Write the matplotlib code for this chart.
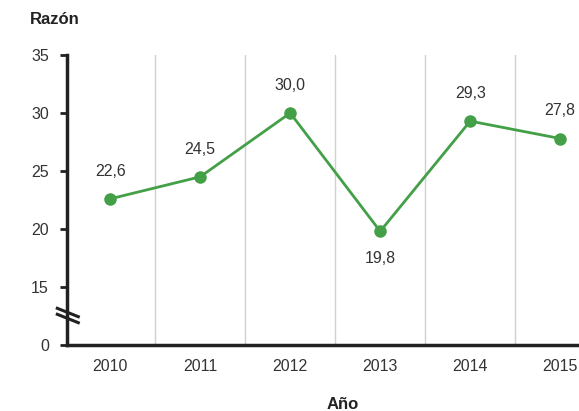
import matplotlib
matplotlib.use("Agg")
import matplotlib.pyplot as plt
from matplotlib.lines import Line2D

years = [2010, 2011, 2012, 2013, 2014, 2015]
razon = [22.6, 24.5, 30.0, 19.8, 29.3, 27.8]
label_below = [False, False, False, True, False, False]
ytick_pos = [10, 15, 20, 25, 30, 35]
ytick_labels = ["0", "15", "20", "25", "30", "35"]

plt.rcParams['font.family'] = ['Liberation Sans', 'DejaVu Sans']

W, H = 579, 411
fig = plt.figure(figsize=(W / 100, H / 100), dpi=100)
px = 90.0  # pixels per year
x0 = 2009.52
x1 = 2015.6
left = 67 / W
bottom = 1 - 345 / H
height = (345 - 55) / H
width = (x1 - x0) * px / W
ax = fig.add_axes([left, bottom, width, height])

green = '#43a047'
txt = '#333333'
fs = 11.5

ax.plot(years, razon, color=green, lw=2.0, marker='o', ms=8, zorder=3, clip_on=False)
for x, y, below in zip(years, razon, label_below):
    off = -19.5 if below else 20
    ax.annotate(f"{y:.1f}".replace('.', ','), (x, y), xytext=(0, off),
                textcoords='offset points', ha='center', va='center',
                fontsize=fs, color=txt, annotation_clip=False)

ax.set_xlim(x0, x1)
ax.set_ylim(10, 35)
ax.set_yticks(ytick_pos)
ax.set_yticklabels(ytick_labels)
ax.set_xticks(years)
ax.set_xticklabels([str(y) for y in years])
ax.set_xticks([y + 0.5 for y in years[:-1]], minor=True)
ax.grid(False)
ax.xaxis.grid(True, which='minor', color='#d0d0d0', lw=1)
ax.tick_params(axis='x', which='both', length=0, labelsize=fs, labelcolor=txt, pad=10)
ax.tick_params(axis='y', length=5, width=2, color='#222222', labelsize=fs, labelcolor=txt, pad=8)

for s in ['top', 'right']:
    ax.spines[s].set_visible(False)
ax.spines['left'].set_linewidth(2.5)
ax.spines['bottom'].set_linewidth(2.5)
ax.spines['left'].set_color('#222222')
ax.spines['bottom'].set_color('#222222')

# axis break marks
for yy in (308.3, 314.3):
    fig.add_artist(Line2D([57.3 / W, 78.3 / W], [1 - yy / H, 1 - (yy + 8.4) / H],
                          color='#222222', lw=2.2, transform=fig.transFigure))

fig.text(30 / W, 1 - 20 / H, "Razón", fontsize=12, fontweight='bold', color='#222222',
         ha='left', va='center')
fig.text(343 / W, 1 - 404 / H, "Año", fontsize=12, fontweight='bold', color='#222222',
         ha='center', va='center')

fig.savefig("out.png", dpi=100)
